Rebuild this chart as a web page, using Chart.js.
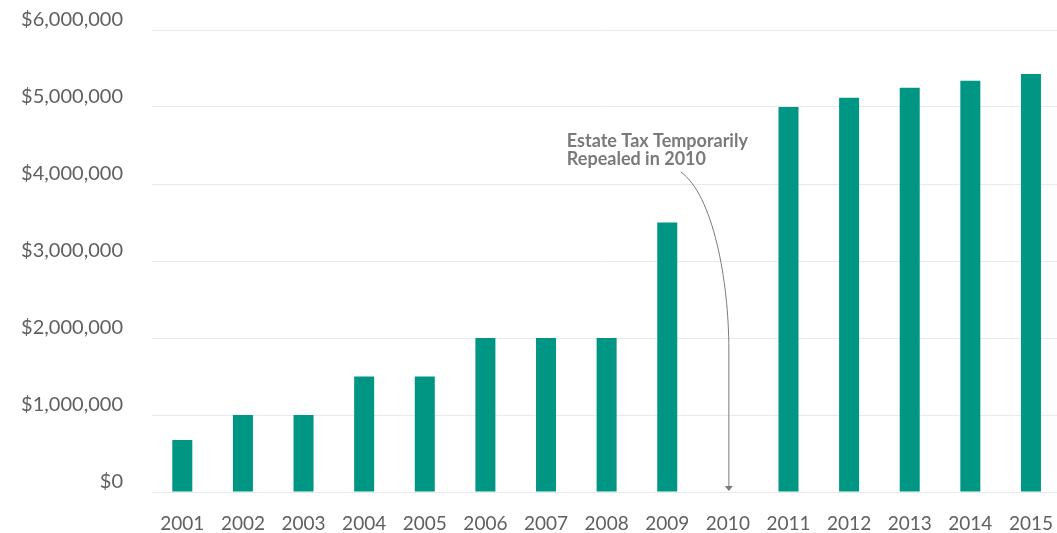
<!DOCTYPE html>
<html>
<head>
<meta charset="utf-8">
<script src="https://cdn.jsdelivr.net/npm/chart.js@4/dist/chart.umd.min.js"></script>
<style>
  body { margin: 0; overflow: hidden; background: #fff; }
  #wrap { width: 1065px; height: 533px; }
</style>
</head>
<body>
<div id="wrap"><canvas id="myChart"></canvas></div>
<script>
// estate tax exemption by year
const years = ["2001", "2002", "2003", "2004", "2005", "2006", "2007", "2008", "2009", "2010", "2011", "2012", "2013", "2014", "2015"];
const exemption = [675000, 1000000, 1000000, 1500000, 1500000, 2000000, 2000000, 2000000, 3500000, null, 5000000, 5120000, 5250000, 5340000, 5430000];
const noteLines = ["Estate Tax Temporarily", "Repealed in 2010"];
const noteYear = "2010";

// curved arrow + note pointing at the missing 2010 bar
const notePlugin = {
  id: "note",
  afterDatasetsDraw(chart) {
    const ctx = chart.ctx;
    const x = chart.scales.x.getPixelForValue(years.indexOf(noteYear));
    const y0 = chart.scales.y.getPixelForValue(0);
    ctx.save();
    ctx.fillStyle = "#7a7a7a";
    ctx.font = "bold 18px Lato";
    ctx.textBaseline = "middle";
    ctx.fillText(noteLines[0], x - 161, 141);
    ctx.fillText(noteLines[1], x - 161, 159);
    ctx.strokeStyle = "#7a7a7a";
    ctx.lineWidth = 1;
    ctx.beginPath();
    ctx.moveTo(x - 47, 172);
    ctx.bezierCurveTo(x - 15, 195, x + 1, 280, x + 1, 350);
    ctx.lineTo(x + 1, y0 - 5);
    ctx.stroke();
    ctx.beginPath();
    ctx.moveTo(x - 3, y0 - 6);
    ctx.lineTo(x + 5, y0 - 6);
    ctx.lineTo(x + 1, y0 - 1);
    ctx.closePath();
    ctx.fill();
    ctx.restore();
  },
};

const ctx = document.getElementById("myChart").getContext("2d");
const myChart = new Chart(ctx, {
  type: "bar",
  data: {
    labels: years,
    datasets: [
      {
        label: "Exemption",
        data: exemption,
        backgroundColor: "#009684",
        categoryPercentage: 1,
        barPercentage: 0.33,
      },
    ],
  },
  options: {
    responsive: true,
    maintainAspectRatio: false,
    animation: false,
    layout: { padding: { top: 30, right: 0, left: 0, bottom: 0 } },
    plugins: {
      legend: { display: false },
      tooltip: { enabled: false },
    },
    scales: {
      x: {
        grid: { display: false },
        border: { display: false },
        ticks: { color: "#606060", font: { family: "Lato", size: 19 }, padding: 12, maxRotation: 0 },
        afterFit(scale) { scale.height = 41; },
      },
      y: {
        min: 0,
        max: 6000000,
        border: { display: false },
        grid: { color: "#e9e9e9", drawTicks: false },
        ticks: {
          stepSize: 1000000,
          color: "#606060",
          font: { family: "Lato", size: 20 },
          padding: 29,
          labelOffset: -10,
          callback: (v) => "$" + v.toLocaleString("en-US"),
        },
        afterFit(scale) {
          scale.width = 152;
          scale.paddingTop = 0;
          scale.paddingBottom = 0;
        },
      },
    },
  },
  plugins: [notePlugin],
});
</script>
</body>
</html>
